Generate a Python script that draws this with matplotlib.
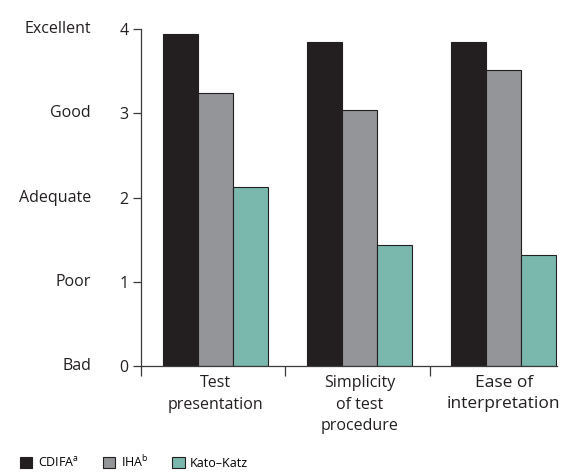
import matplotlib
matplotlib.use("Agg")
import matplotlib.pyplot as plt
import numpy as np
from matplotlib.patches import Patch

plt.rcParams['font.family'] = ['Open Sans', 'DejaVu Sans']
plt.rcParams['mathtext.fontset'] = 'custom'
plt.rcParams['mathtext.rm'] = 'Open Sans'
plt.rcParams['mathtext.it'] = 'Open Sans:italic'

categories = ["Test\npresentation", "Simplicity\nof test\nprocedure", "Ease of\ninterpretation"]
series_names = ["CDIFA$^{\\mathrm{a}}$", "IHA$^{\\mathrm{b}}$", "Kato\u2013Katz"]
cdifa = [3.94, 3.85, 3.85]
iha = [3.24, 3.04, 3.52]
kato = [2.13, 1.43, 1.32]
y_ticks = [0, 1, 2, 3, 4]
y_words = ["Bad", "Poor", "Adequate", "Good", "Excellent"]

colors = ["#231f20", "#939598", "#7ab8ae"]
edge = "#231f20"

fig = plt.figure(figsize=(5.64, 4.73), dpi=100)
ax = fig.add_axes([141/564, 107.3/473, (557-141)/564, (365.7-29.3)/473])

w = 0.2426
x0 = 0.272
idx = np.arange(len(categories))
for k, vals in enumerate([cdifa, iha, kato]):
    ax.bar(idx + x0 + k*w, vals, width=w, color=colors[k], edgecolor=edge, linewidth=0.8, zorder=2)

ax.set_xlim(0, 2.883)
ax.set_ylim(0, 4)
for s in ["top", "right"]:
    ax.spines[s].set_visible(False)
for s in ["left", "bottom"]:
    ax.spines[s].set_color("#3a3a3a")
    ax.spines[s].set_linewidth(0.9)

ax.set_yticks(y_ticks)
ax.set_yticklabels([str(t) for t in y_ticks], fontsize=11.5, color="#231f20")
ax.tick_params(axis='y', length=6, width=0.9, color="#3a3a3a", pad=3)
for t, wd in zip(y_ticks, y_words):
    ax.annotate(wd, xy=(0, t), xycoords=('axes fraction', 'data'), xytext=(-50, 0),
                textcoords='offset pixels', ha='right', va='center', fontsize=11.5, color="#231f20")

ax.set_xticks(idx)
ax.set_xticklabels([])
ax.tick_params(axis='x', which='major', length=7.5, width=0.9, color="#3a3a3a")
ax.set_xticks(idx + x0 + w, minor=True)
labs = ax.set_xticklabels(categories, minor=True, fontsize=11.5, color="#231f20", linespacing=1.45)
labs[2].set_fontsize(12.5)
labs[2].set_linespacing(1.35)
ax.tick_params(axis='x', which='minor', length=0, pad=7)

handles = [Patch(facecolor=colors[k], edgecolor=edge, linewidth=0.8, label=series_names[k]) for k in range(3)]
fig.legend(handles=handles, loc='lower left', bbox_to_anchor=(0.015, -0.017), ncol=3, frameon=False,
           fontsize=9, handlelength=1.0, handleheight=1.0, handletextpad=0.45, columnspacing=1.9)

fig.savefig("out.png", dpi=100)
